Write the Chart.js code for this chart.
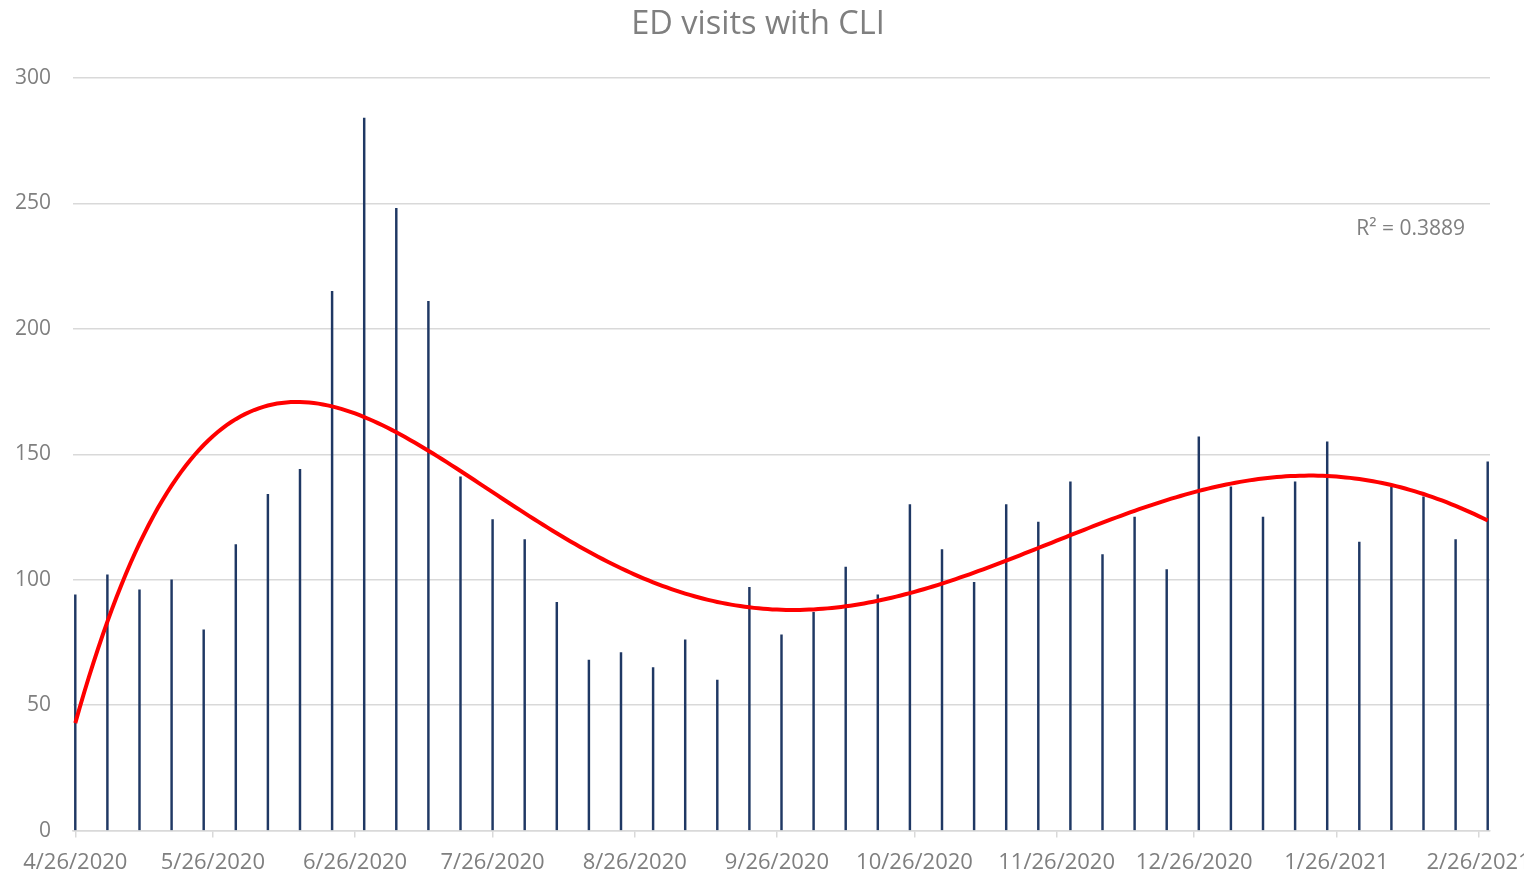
<!DOCTYPE html>
<html>
<head>
<meta charset="utf-8">
<title>ED visits with CLI</title>
<script src="https://cdn.jsdelivr.net/npm/chart.js@4.4.1/dist/chart.umd.min.js"></script>
<style>
  html, body { margin: 0; padding: 0; background: #fff; overflow: hidden; }
  #wrap { position: relative; width: 1600px; height: 888px; }
</style>
</head>
<body>
<div id="wrap"><canvas id="cliChart"></canvas></div>
<script>
// Week start dates (one bar per week)
const weekStarts = [
  '2020-04-26', '2020-05-03', '2020-05-10', '2020-05-17', '2020-05-24', '2020-05-31',
  '2020-06-07', '2020-06-14', '2020-06-21', '2020-06-28', '2020-07-05', '2020-07-12',
  '2020-07-19', '2020-07-26', '2020-08-02', '2020-08-09', '2020-08-16', '2020-08-23',
  '2020-08-30', '2020-09-06', '2020-09-13', '2020-09-20', '2020-09-27', '2020-10-04',
  '2020-10-11', '2020-10-18', '2020-10-25', '2020-11-01', '2020-11-08', '2020-11-15',
  '2020-11-22', '2020-11-29', '2020-12-06', '2020-12-13', '2020-12-20', '2020-12-27',
  '2021-01-03', '2021-01-10', '2021-01-17', '2021-01-24', '2021-01-31', '2021-02-07',
  '2021-02-14', '2021-02-21', '2021-02-28'
];

// ED visits with CLI per week
const visits = [
  94, 102, 96, 100, 80, 114, 134, 144, 215, 284, 248, 211,
  141, 124, 116, 91, 68, 71, 65, 76, 60, 97, 78, 87,
  105, 94, 130, 112, 99, 130, 123, 139, 110, 125, 104, 157,
  137, 125, 139, 155, 115, 137, 133, 116, 147
];

// x axis labels (monthly)
const monthTicks = [
  '4/26/2020', '5/26/2020', '6/26/2020', '7/26/2020', '8/26/2020', '9/26/2020',
  '10/26/2020', '11/26/2020', '12/26/2020', '1/26/2021', '2/26/2021'
];

const yTicks = [0, 50, 100, 150, 200, 250, 300];

const chartTitle = 'ED visits with CLI';

// polynomial trendline, order 5
const trendOrder = 5;
const r2Label = 'R\u00b2 = 0.3889';

const textColor = '#7f7f7f';
const gridColor = '#d9d9d9';
const fontFamily = '"Open Sans", "Liberation Sans", sans-serif';

// days since the first week
const startUTC = Date.UTC(2020, 3, 26);
function dayOf(y, m, d) {
  return Math.round((Date.UTC(y, m - 1, d) - startUTC) / 86400000);
}
const weekDays = weekStarts.map(s => {
  const p = s.split('-').map(Number);
  return dayOf(p[0], p[1], p[2]);
});
const tickDays = monthTicks.map(s => {
  const p = s.split('/').map(Number);
  return dayOf(p[2], p[0], p[1]);
});

// least squares polynomial fit (same as Excel's trendline)
function polyFit(xs, ys, degree) {
  const n = degree + 1;
  const mid = (xs[0] + xs[xs.length - 1]) / 2;
  const half = (xs[xs.length - 1] - xs[0]) / 2;
  const A = Array.from({ length: n }, () => new Array(n + 1).fill(0));
  xs.forEach((x, k) => {
    const t = (x - mid) / half;
    const pw = [];
    for (let j = 0; j < 2 * n; j++) pw.push(Math.pow(t, j));
    for (let r = 0; r < n; r++) {
      for (let c = 0; c < n; c++) A[r][c] += pw[r + c];
      A[r][n] += ys[k] * pw[r];
    }
  });
  for (let i = 0; i < n; i++) {
    let p = i;
    for (let r = i + 1; r < n; r++) if (Math.abs(A[r][i]) > Math.abs(A[p][i])) p = r;
    [A[i], A[p]] = [A[p], A[i]];
    for (let r = 0; r < n; r++) {
      if (r === i) continue;
      const f = A[r][i] / A[i][i];
      for (let c = i; c <= n; c++) A[r][c] -= f * A[i][c];
    }
  }
  const coef = A.map((row, i) => row[n] / row[i]);
  return x => {
    const t = (x - mid) / half;
    return coef.reduce((s, c, j) => s + c * Math.pow(t, j), 0);
  };
}

const trend = polyFit(weekDays, visits, trendOrder);
const trendPoints = [];
for (let d = weekDays[0]; d <= weekDays[weekDays.length - 1]; d++) {
  trendPoints.push({ x: d, y: trend(d) });
}

// title + R² label
const textPlugin = {
  id: 'chartTexts',
  afterDraw(chart) {
    const { ctx, chartArea } = chart;
    ctx.save();
    ctx.fillStyle = textColor;
    ctx.textBaseline = 'middle';

    // Excel centres the title on the whole chart, not on the plot
    ctx.font = '32.5px ' + fontFamily;
    ctx.textAlign = 'center';
    ctx.fillText(chartTitle, (chartArea.left + chartArea.right) / 2 - 23.5, 24.5);

    ctx.font = '21px ' + fontFamily;
    ctx.textAlign = 'right';
    ctx.fillText(r2Label, chartArea.right - 25, chart.scales.y.getPixelForValue(240));
    ctx.restore();
  }
};

const ctx = document.getElementById('cliChart');
const chart = new Chart(ctx, {
  data: {
    datasets: [
      {
        type: 'line',
        label: 'Poly. (ED visits with CLI)',
        data: trendPoints,
        borderColor: '#ff0000',
        borderWidth: 4,
        pointRadius: 0,
        order: 0
      },
      {
        type: 'bar',
        label: 'ED visits with CLI',
        data: weekDays.map((d, i) => ({ x: d, y: visits[i] })),
        backgroundColor: '#1f3864',
        barThickness: 1.8,
        borderWidth: 0,
        order: 1
      }
    ]
  },
  options: {
    responsive: true,
    maintainAspectRatio: false,
    animation: false,
    layout: {
      padding: { left: 0, right: 110, top: 78, bottom: 0 }
    },
    plugins: {
      legend: { display: false },
      tooltip: { enabled: false },
      title: { display: false }
    },
    scales: {
      x: {
        type: 'linear',
        offset: false,
        min: weekDays[0] - 0.5,
        max: weekDays[weekDays.length - 1] + 0.5,
        afterBuildTicks(scale) {
          scale.ticks = tickDays.map(v => ({ value: v }));
        },
        ticks: {
          autoSkip: false,
          maxRotation: 0,
          padding: 12,
          color: textColor,
          font: { family: fontFamily, size: 22 },
          callback: (value, index) => monthTicks[index]
        },
        grid: {
          offset: false,
          drawOnChartArea: false,
          drawTicks: true,
          tickLength: 7,
          color: gridColor,
          lineWidth: 1.5
        },
        border: { display: true, color: gridColor, width: 1.5 }
      },
      y: {
        min: yTicks[0],
        max: yTicks[yTicks.length - 1],
        afterBuildTicks(scale) {
          scale.ticks = yTicks.map(v => ({ value: v }));
        },
        afterFit(scale) {
          scale.width = 73;
        },
        ticks: {
          padding: 22,
          color: textColor,
          font: { family: fontFamily, size: 21 }
        },
        grid: {
          color: gridColor,
          lineWidth: 1.5,
          drawTicks: false
        },
        border: { display: false }
      }
    }
  },
  plugins: [textPlugin]
});
</script>
</body>
</html>
